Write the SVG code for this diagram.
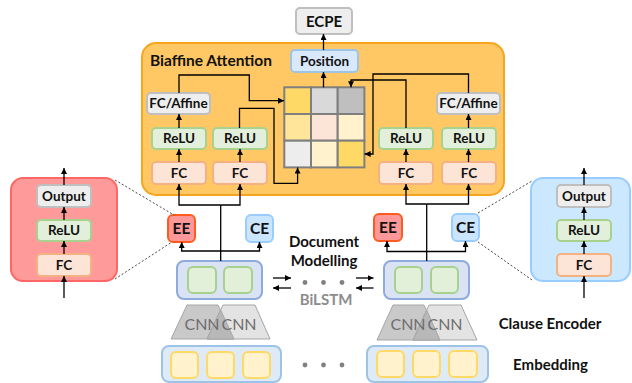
<svg xmlns="http://www.w3.org/2000/svg" width="632" height="383" viewBox="0 0 632 383">
<defs>
<marker id="ah" viewBox="0 0 6 6" refX="6" refY="3" markerWidth="6" markerHeight="6" markerUnits="userSpaceOnUse" orient="auto">
<path d="M0,0 L6,3 L0,6 z" fill="#000"/>
</marker>
<style>
text{font-family:Lato,"Liberation Sans",sans-serif;font-weight:bold;fill:#111;text-anchor:middle}
.gray{fill:#eeeeee;stroke:#bfbfbf;stroke-width:2}
.relu{fill:#e2efda;stroke:#a9d18e;stroke-width:2}
.fc{fill:#fce4d6;stroke:#f4b183;stroke-width:2}
.pos{fill:#dae8fc;stroke:#9dc3e6;stroke-width:2}
.ee{fill:#ff9999;stroke:#ff5b1f;stroke-width:2}
.ce{fill:#cce5ff;stroke:#99ccff;stroke-width:2}
.bl{fill:#dae3f3;stroke:#8faadc;stroke-width:2}
.blc{fill:#e2f0d9;stroke:#a9d18e;stroke-width:2}
.emb{fill:#deebf7;stroke:#9dc3e6;stroke-width:2}
.embc{fill:#fff2cc;stroke:#ffd966;stroke-width:2}
.bt{font-size:13.5px}
.ln{fill:none;stroke:#000;stroke-width:1.3}
.ar{fill:none;stroke:#000;stroke-width:1.3;marker-end:url(#ah)}
.dot{fill:none;stroke:#333;stroke-width:0.9;stroke-dasharray:2 2}
.cell{stroke:#7f7f7f;stroke-width:2}
.trap{stroke:#a6a6a6;stroke-width:1}
.lbl{font-size:15px}
.cnn{font-size:16px;font-weight:normal;fill:#6e6e6e}
</style>
</defs>

<g id="biaffine-panel">
<rect x="142" y="43" width="362" height="152" rx="14" fill="#ffc864" stroke="#f7a51c" stroke-width="2"/>
<text x="150" y="66" style="font-size:15.5px;text-anchor:start">Biaffine Attention</text>
</g>

<g id="ecpe"><rect class="gray" x="296" y="8" width="56" height="26" rx="4"/><text x="324" y="26.5" style="font-size:15px">ECPE</text></g>
<g id="position"><rect class="pos" x="291" y="50" width="67" height="22" rx="4"/><text class="bt" x="324.5" y="65.8">Position</text></g>

<g id="matrix">
<rect class="cell" x="284.3" y="87.3" width="26.7" height="26.7" fill="#ffd966"/>
<rect class="cell" x="311" y="87.3" width="26.7" height="26.7" fill="#d9d9d9"/>
<rect class="cell" x="337.7" y="87.3" width="26.7" height="26.7" fill="#bfbfbf"/>
<rect class="cell" x="284.3" y="114" width="26.7" height="26.7" fill="#ffe599"/>
<rect class="cell" x="311" y="114" width="26.7" height="26.7" fill="#fce4d6"/>
<rect class="cell" x="337.7" y="114" width="26.7" height="26.7" fill="#fff2cc"/>
<rect class="cell" x="284.3" y="140.7" width="26.7" height="26.7" fill="#ededed"/>
<rect class="cell" x="311" y="140.7" width="26.7" height="26.7" fill="#fff2cc"/>
<rect class="cell" x="337.7" y="140.7" width="26.7" height="26.7" fill="#ffd966"/>
</g>

<g id="fcaffine-left"><rect class="gray" x="147" y="93" width="63" height="21" rx="4"/><text class="bt" x="178.5" y="108.3">FC/Affine</text></g>
<g id="fcaffine-right"><rect class="gray" x="437" y="93" width="63" height="21" rx="4"/><text class="bt" x="468.5" y="108.3">FC/Affine</text></g>
<g id="relu-1"><rect class="relu" x="152" y="128" width="54" height="21" rx="4"/><text class="bt" x="179" y="143.3">ReLU</text></g>
<g id="relu-2"><rect class="relu" x="213" y="128" width="54" height="21" rx="4"/><text class="bt" x="240" y="143.3">ReLU</text></g>
<g id="relu-3"><rect class="relu" x="379" y="128" width="54" height="21" rx="4"/><text class="bt" x="406" y="143.3">ReLU</text></g>
<g id="relu-4"><rect class="relu" x="442" y="128" width="54" height="21" rx="4"/><text class="bt" x="469" y="143.3">ReLU</text></g>
<g id="fc-1"><rect class="fc" x="152" y="162" width="54" height="22" rx="4"/><text class="bt" x="179" y="177.8">FC</text></g>
<g id="fc-2"><rect class="fc" x="213" y="162" width="54" height="22" rx="4"/><text class="bt" x="240" y="177.8">FC</text></g>
<g id="fc-3"><rect class="fc" x="379" y="162" width="54" height="22" rx="4"/><text class="bt" x="406" y="177.8">FC</text></g>
<g id="fc-4"><rect class="fc" x="442" y="162" width="54" height="22" rx="4"/><text class="bt" x="469" y="177.8">FC</text></g>

<g id="ee-panel">
<rect x="11" y="178" width="106" height="103" rx="12" fill="#ff9a9a" stroke="#ff6666" stroke-width="2"/>
<rect class="gray" x="37" y="185" width="54" height="22" rx="4"/><text class="bt" x="64" y="200.8">Output</text>
<rect class="relu" x="37" y="220" width="54" height="21" rx="4"/><text class="bt" x="64" y="235.3">ReLU</text>
<rect class="fc" x="37" y="254" width="54" height="22" rx="4"/><text class="bt" x="64" y="269.8">FC</text>
</g>
<g id="ce-panel">
<rect x="531" y="178" width="99" height="103" rx="12" fill="#cce8ff" stroke="#99ccff" stroke-width="2"/>
<rect class="gray" x="557" y="185" width="54" height="22" rx="4"/><text class="bt" x="584" y="200.8">Output</text>
<rect class="relu" x="557" y="220" width="54" height="21" rx="4"/><text class="bt" x="584" y="235.3">ReLU</text>
<rect class="fc" x="557" y="254" width="54" height="22" rx="4"/><text class="bt" x="584" y="269.8">FC</text>
</g>

<g id="ee-left"><rect class="ee" x="168" y="215" width="27" height="27" rx="5"/><text x="181.5" y="234" style="font-size:15.5px">EE</text></g>
<g id="ce-left"><rect class="ce" x="246" y="215" width="27" height="27" rx="5"/><text x="259.5" y="234" style="font-size:15.5px">CE</text></g>
<g id="ee-right"><rect class="ee" x="374" y="214" width="28" height="27" rx="5"/><text x="388" y="233" style="font-size:15.5px">EE</text></g>
<g id="ce-right"><rect class="ce" x="452" y="214" width="27" height="27" rx="5"/><text x="465.5" y="233" style="font-size:15.5px">CE</text></g>

<g id="bilstm-left"><rect class="bl" x="177" y="261" width="85" height="38" rx="7"/><rect class="blc" x="188" y="267" width="28" height="26" rx="5"/><rect class="blc" x="224" y="267" width="28" height="26" rx="5"/></g>
<g id="bilstm-right"><rect class="bl" x="384" y="261" width="85" height="38" rx="7"/><rect class="blc" x="395" y="267" width="27" height="26" rx="5"/><rect class="blc" x="431" y="267" width="27" height="26" rx="5"/></g>

<g id="doc-label">
<text class="lbl" x="324" y="247">Document</text>
<text class="lbl" x="324" y="266">Modelling</text>
<circle cx="305" cy="282.5" r="2.4" fill="#808080"/><circle cx="323.5" cy="282.5" r="2.4" fill="#808080"/><circle cx="342" cy="282.5" r="2.4" fill="#808080"/>
<text x="326" y="305" style="font-size:15px;fill:#8c8c8c">BiLSTM</text>
</g>

<g id="cnn-left">
<polygon class="trap" points="171,339 187,305 218,305 234,339" fill="#c9c9c9"/>
<polygon class="trap" points="207,339 223,305 255,305 270,339" fill="#e3e3e3"/>
<polygon class="trap" points="207,339 220.6,309.9 234,339" fill="#b8b8b8"/>
<text class="cnn" x="202" y="330">CNN</text>
<text class="cnn" x="239" y="330">CNN</text>
</g>
<g id="cnn-right">
<polygon class="trap" points="377,340 393,305 424,305 440,340" fill="#c9c9c9"/>
<polygon class="trap" points="413,340 429,305 461,305 477,340" fill="#e3e3e3"/>
<polygon class="trap" points="413,340 426.7,310.2 440,340" fill="#b8b8b8"/>
<text class="cnn" x="408" y="330">CNN</text>
<text class="cnn" x="445" y="330">CNN</text>
</g>

<g id="embedding-left"><rect class="emb" x="162" y="346" width="119" height="36" rx="7"/><rect class="embc" x="171" y="352" width="27" height="26" rx="5"/><rect class="embc" x="207" y="352" width="27" height="26" rx="5"/><rect class="embc" x="243" y="352" width="27" height="26" rx="5"/></g>
<g id="embedding-right"><rect class="emb" x="367" y="346" width="121" height="36" rx="7"/><rect class="embc" x="377" y="351" width="27" height="26" rx="5"/><rect class="embc" x="413" y="351" width="27" height="26" rx="5"/><rect class="embc" x="449" y="351" width="28" height="26" rx="5"/></g>
<g id="emb-dots"><circle cx="305" cy="365" r="2.4" fill="#808080"/><circle cx="323.5" cy="365" r="2.4" fill="#808080"/><circle cx="342" cy="365" r="2.4" fill="#808080"/></g>

<g id="labels">
<text class="lbl" x="550" y="329">Clause Encoder</text>
<text class="lbl" x="550.5" y="370">Embedding</text>
</g>

<g id="connectors">
<path class="ar" d="M323.5,50 V34"/>
<path class="ar" d="M323.5,87.3 V72"/>
<path class="ar" d="M179,93 V75 H249.3 V100.7 H284"/>
<path class="ar" d="M239.5,128 V108.3 H274 V183.3 H297.6 V167.6"/>
<path class="ar" d="M468.5,93 V74 H373 V154 H364.6"/>
<path class="ar" d="M406,128 V80 H351 V87.2"/>
<path class="ar" d="M179,162 V149"/>
<path class="ar" d="M179,128 V114"/>
<path class="ar" d="M240,162 V149"/>
<path class="ar" d="M406,162 V149"/>
<path class="ar" d="M468.5,162 V149"/>
<path class="ar" d="M468.5,128 V114"/>
<path class="ln" d="M220.7,261 V205"/>
<path class="ar" d="M220.7,205 H179 V184"/>
<path class="ar" d="M220.7,205 H240 V184"/>
<path class="ar" d="M220.7,251 H181.7 V242"/>
<path class="ar" d="M220.7,251 H259.5 V242"/>
<path class="ln" d="M426.7,261 V204"/>
<path class="ar" d="M426.7,204 H406 V184"/>
<path class="ar" d="M426.7,204 H468.5 V184"/>
<path class="ar" d="M426.7,251.5 H387 V241"/>
<path class="ar" d="M426.7,251.5 H465.5 V241"/>
<path class="ar" d="M273,278 H291"/>
<path class="ar" d="M291,288 H273"/>
<path class="ar" d="M356,278 H373.5"/>
<path class="ar" d="M373.5,288 H356"/>
<path class="ar" d="M64,298 V276"/>
<path class="ar" d="M64,254 V241"/>
<path class="ar" d="M64,220 V207"/>
<path class="ar" d="M64,185 V168"/>
<path class="ar" d="M584,298 V276"/>
<path class="ar" d="M584,254 V241"/>
<path class="ar" d="M584,220 V207"/>
<path class="ar" d="M584,185 V168"/>
<path class="dot" d="M115,180 L174,215"/>
<path class="dot" d="M115,279 L172,242"/>
<path class="dot" d="M478,213 L532,181"/>
<path class="dot" d="M478,242 L532,280"/>
</g>
</svg>
